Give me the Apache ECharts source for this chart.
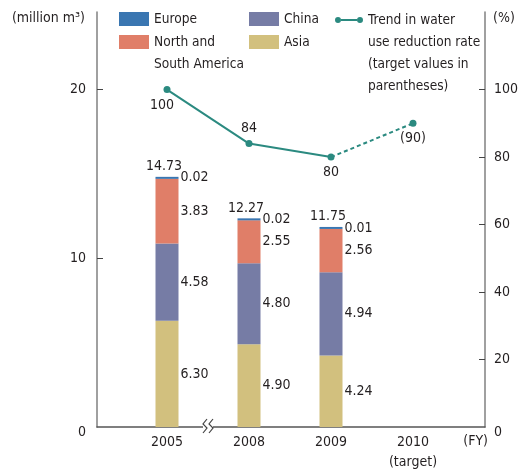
<!DOCTYPE html>
<html>
<head>
<meta charset="utf-8">
<script src="https://cdn.jsdelivr.net/npm/echarts@6/dist/echarts.min.js"></script>
<style>
  html, body { margin: 0; padding: 0; background: #fff; }
  #chart { width: 524px; height: 471px; }
</style>
</head>
<body>
<div id="chart"></div>
<script>
// fiscal years (last one is the target year)
const categories = ['2005', '2008', '2009', '2010\n(target)'];
// water use by region, million m3
const europe = [0.02, 0.02, 0.01];
const americas = [3.83, 2.55, 2.56];
const china = [4.58, 4.80, 4.94];
const asia = [6.30, 4.90, 4.24];
const totals = [14.73, 12.27, 11.75];
// reduction rate trend, % (null where there is no value)
const rateActual = [100, 84, 80, null];
const rateTarget = [null, null, 80, 90];
// axis ticks
const leftTicks = [0, 10, 20];
const rightTicks = [0, 20, 40, 60, 80, 100];

const FONT = '"Liberation Sans Narrow", "DejaVu Sans Condensed", sans-serif';
const TXT = '#231f20';
const C_EU = '#3a76b1';
const C_AM = '#e07e68';
const C_CN = '#767ca5';
const C_AS = '#d2c07e';
const C_LINE = '#2b8a80';
const LINE_NAME = 'Trend in water\nuse reduction rate\n(target values in\nparentheses)';

const chart = echarts.init(document.getElementById('chart'));

const labelStyle = {
  color: TXT,
  fontFamily: FONT,
  fontSize: 14,
};

function barSeries(name, data, color, extra) {
  return Object.assign({
    name: name,
    type: 'bar',
    stack: 'water',
    xAxisIndex: 1,
    yAxisIndex: 2,
    barWidth: 23,
    data: data,
    itemStyle: { color: color },
    label: {
      show: true,
      position: 'right',
      distance: 2,
      ...labelStyle,
      formatter: p => p.value.toFixed(2),
    },
  }, extra || {});
}

// empty lines in front push the text down so its first line sits next to the icon
function legendBox(name, left, iconTop, iconH, lines, iconW, icon) {
  const lh = 22;
  const boxH = (2 * lines - 1) * lh;
  return {
    data: [{ name: name, icon: icon || 'rect' }],
    left: left,
    top: iconTop - (boxH / 2 - iconH / 2),
    padding: 0,
    itemWidth: iconW || 30,
    itemHeight: iconH,
    selectedMode: false,
    formatter: n => '\n'.repeat(lines - 1) + n,
    textStyle: { ...labelStyle, fontSize: 13.6, lineHeight: lh },
  };
}

const lineIcon = 'path://M0,3a3,3 0 1,0 6,0a3,3 0 1,0 -6,0Z M22,3a3,3 0 1,0 6,0a3,3 0 1,0 -6,0Z M6,2H22V4H6Z';

const hiddenAxis = {
  show: false,
  splitLine: { show: false },
};

// the zero labels sit a little below the axis line
const zeroLabel = v => (v === 0 ? '{z|0}' : String(v));
const zeroRich = { z: { ...labelStyle, padding: [10, 0, 0, 0] } };

const options = {
  animation: false,
  textStyle: { fontFamily: FONT },
  grid: [
    // frame: axis lines, ticks and value labels
    { left: 97, right: 39, top: 12, bottom: 44, outerBoundsMode: 'none' },
    // plot area holding the four fiscal years
    { left: 126, right: 70, top: 12, bottom: 44, outerBoundsMode: 'none' },
  ],
  legend: [
    legendBox('Europe', 119, 12, 14, 1),
    legendBox('North and\nSouth America', 119, 35, 14, 2),
    legendBox('China', 249, 12, 14, 1),
    legendBox('Asia', 249, 35, 14, 1),
    legendBox(LINE_NAME, 335, 17, 6, 4, 28, lineIcon),
  ],
  xAxis: [
    {
      gridIndex: 0,
      type: 'value',
      min: 0,
      max: 1,
      splitLine: { show: false },
      axisTick: { show: false },
      axisLabel: { show: false },
      axisLine: { show: true, onZero: false, lineStyle: { color: '#555', width: 1.5 } },
      name: '(FY)',
      nameLocation: 'end',
      nameGap: 3,
      nameTextStyle: { ...labelStyle, align: 'right', verticalAlign: 'top', padding: [7, 0, 0, 0] },
    },
    {
      gridIndex: 1,
      type: 'category',
      data: categories,
      axisLine: { show: false },
      axisTick: { show: false },
      axisLabel: { ...labelStyle, margin: 5, lineHeight: 20, verticalAlign: 'top', interval: 0 },
    },
  ],
  yAxis: [
    {
      gridIndex: 0,
      type: 'value',
      min: 0,
      max: 24.6,
      splitLine: { show: false },
      axisLine: { show: true, onZero: false, lineStyle: { color: '#808080', width: 1.5 } },
      axisTick: { show: true, inside: true, length: 6, customValues: leftTicks.slice(1), lineStyle: { color: '#444' } },
      axisLabel: { customValues: leftTicks, margin: 11, ...labelStyle, formatter: zeroLabel, rich: zeroRich },
      name: '(million m³)',
      nameLocation: 'end',
      nameGap: -6,
      nameTextStyle: { ...labelStyle, align: 'right', verticalAlign: 'middle', padding: [0, 12, 0, 0] },
    },
    {
      gridIndex: 0,
      type: 'value',
      min: 0,
      max: 123,
      position: 'right',
      splitLine: { show: false },
      axisLine: { show: true, onZero: false, lineStyle: { color: '#808080', width: 1.5 } },
      axisTick: { show: true, inside: true, length: 6, customValues: rightTicks.slice(1), lineStyle: { color: '#444' } },
      axisLabel: { customValues: rightTicks, margin: 9, ...labelStyle, formatter: zeroLabel, rich: zeroRich },
      name: '(%)',
      nameLocation: 'end',
      nameGap: -6,
      nameTextStyle: { ...labelStyle, align: 'left', verticalAlign: 'middle', padding: [0, 0, 0, 8] },
    },
    { gridIndex: 1, type: 'value', min: 0, max: 24.6, ...hiddenAxis },
    { gridIndex: 1, type: 'value', min: 0, max: 123, position: 'right', ...hiddenAxis },
  ],
  series: [
    barSeries('Asia', asia, C_AS),
    barSeries('China', china, C_CN),
    barSeries('North and\nSouth America', americas, C_AM),
    barSeries('Europe', europe, C_EU, { barMinHeight: 2 }),
    {
      name: 'total',
      type: 'bar',
      stack: 'water',
      xAxisIndex: 1,
      yAxisIndex: 2,
      barWidth: 23,
      data: totals.map(() => 0),
      itemStyle: { color: 'transparent' },
      label: {
        show: true,
        position: 'top',
        distance: 5,
        offset: [-3, 0],
        ...labelStyle,
        formatter: p => totals[p.dataIndex].toFixed(2),
      },
    },
    {
      name: LINE_NAME,
      type: 'line',
      xAxisIndex: 1,
      yAxisIndex: 3,
      symbol: 'circle',
      symbolSize: 7,
      z: 5,
      itemStyle: { color: C_LINE },
      lineStyle: { color: C_LINE, width: 2 },
      label: { show: true, position: 'bottom', distance: 5, ...labelStyle },
      data: rateActual.map((v, i) => ({
        value: v,
        label: i === 0 ? { offset: [-5, 0] } : (i === 1 ? { position: 'top' } : {}),
      })),
    },
    {
      name: 'target',
      type: 'line',
      xAxisIndex: 1,
      yAxisIndex: 3,
      symbol: 'circle',
      symbolSize: 7,
      z: 4,
      itemStyle: { color: C_LINE },
      lineStyle: { color: C_LINE, width: 2, type: [4, 3] },
      label: { show: true, position: 'bottom', distance: 5, ...labelStyle, formatter: p => '(' + p.value + ')' },
      data: rateTarget.map((v, i) => (i === 2 ? { value: v, symbolSize: 0, label: { show: false } } : v)),
    },
  ],
};

chart.setOption(options);

// axis break mark between 2005 and 2008
const bx = (chart.convertToPixel({ xAxisIndex: 1 }, 0) + chart.convertToPixel({ xAxisIndex: 1 }, 1)) / 2;
const by = chart.convertToPixel({ yAxisIndex: 2 }, 0);
const zig = cx => ({
  type: 'polyline',
  shape: { points: [[cx + 2, by - 8], [cx - 2, by - 3], [cx + 2, by + 1], [cx - 2, by + 6]] },
  style: { stroke: '#444', lineWidth: 1.2, fill: null },
  z: 100,
});
chart.setOption({
  graphic: [
    { type: 'rect', shape: { x: bx - 5, y: by - 2, width: 10, height: 4 }, style: { fill: '#fff' }, z: 99 },
    zig(bx - 3),
    zig(bx + 3),
  ],
});
</script>
</body>
</html>
